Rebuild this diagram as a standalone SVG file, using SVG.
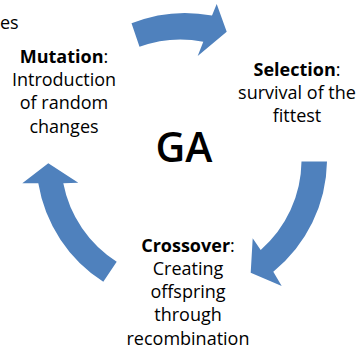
<svg xmlns="http://www.w3.org/2000/svg" width="362" height="355" viewBox="0 0 362 355">
<style>
.lbl{font-family:"Open Sans","Noto Sans","Liberation Sans",sans-serif;font-size:18px;fill:#000;text-anchor:middle}
.b{font-weight:bold}
.arrow{fill:#4F81BD;stroke:none}
.ga{font-family:"Open Sans","Noto Sans","Liberation Sans",sans-serif;font-size:41px;font-weight:600;fill:#000;text-anchor:middle}
</style>
<rect width="362" height="355" fill="#fff"/>
<g id="connectors">
<path class="arrow" d="M131.5,23.3 A145,145 0 0 1 212,15.5 L216.7,4 L226.7,31.7 L197.7,56 L203.3,41.7 A119,119 0 0 0 139.5,46.8 Z"/>
<path class="arrow" d="M327,161.5 A145,145 0 0 1 273.3,271.7 L281.7,286 L250.7,272.7 L252.7,238.3 L260.7,250 A119.5,119.5 0 0 0 301.5,161.5 Z"/>
<path class="arrow" d="M103.3,281.7 A145,145 0 0 1 38.3,183.3 L22.3,183.3 L48.3,163.3 L78.3,182.7 L63.3,183.3 A120,120 0 0 0 116.7,261.7 Z"/>
</g>
<g id="evaluation">
<text class="lbl" x="0" y="28.5" style="text-anchor:start">es</text>
</g>
<g id="mutation">
<text class="lbl" x="64" y="62.7"><tspan class="b">Mutation</tspan>:</text>
<text class="lbl" x="64" y="86">Introduction</text>
<text class="lbl" x="64" y="109.3">of random</text>
<text class="lbl" x="64" y="132.6">changes</text>
</g>
<g id="selection">
<text class="lbl" x="297" y="76"><tspan class="b">Selection</tspan>:</text>
<text class="lbl" x="297" y="99">survival of the</text>
<text class="lbl" x="297" y="122">fittest</text>
</g>
<g id="crossover">
<text class="lbl" x="188" y="251.5"><tspan class="b">Crossover</tspan>:</text>
<text class="lbl" x="188" y="274.8">Creating</text>
<text class="lbl" x="188" y="298">offspring</text>
<text class="lbl" x="188" y="321.3">through</text>
<text class="lbl" x="188" y="344.6">recombination</text>
</g>
<g id="ga">
<text class="ga" x="184" y="161.7">GA</text>
</g>
</svg>
